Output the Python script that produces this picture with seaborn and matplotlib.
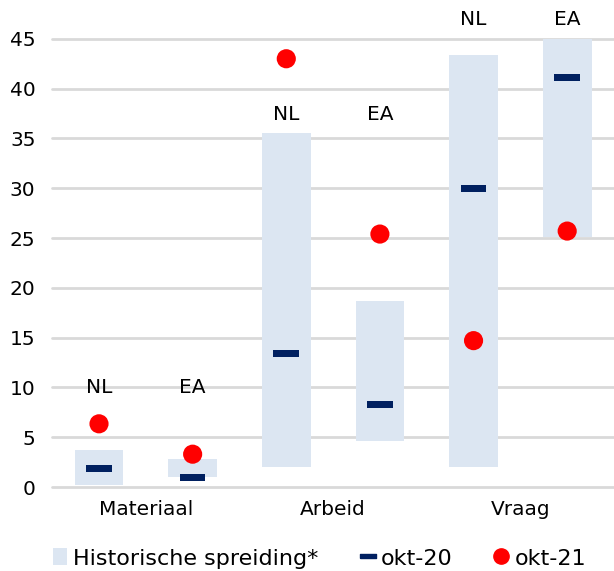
import numpy as np
import pandas as pd
import matplotlib
matplotlib.use("Agg")
import matplotlib.pyplot as plt
from matplotlib.lines import Line2D
from matplotlib.patches import Patch
import seaborn as sns

# %% Data ----
groups = ["Materiaal", "Arbeid", "Vraag"]
regions = ["NL", "EA", "NL", "EA", "NL", "EA"]
slots = ["Materiaal NL", "Materiaal EA", "Arbeid NL", "Arbeid EA", "Vraag NL", "Vraag EA"]
hist_low = [0.2, 1.0, 2.0, 4.6, 2.0, 25.1]
hist_high = [3.75, 2.8, 35.5, 18.7, 43.4, 45.0]
okt20 = [1.85, 1.0, 13.4, 8.3, 29.95, 41.1]
okt21 = [6.35, 3.3, 43.0, 25.4, 14.7, 25.7]
label_y = [10.0, 10.0, 37.4, 37.4, 46.9, 46.9]

df = pd.DataFrame({
    "slot": slots,
    "region": regions,
    "low": hist_low,
    "span": np.array(hist_high) - np.array(hist_low),
    "okt20": okt20,
    "okt21": okt21,
})

# %% Style ----
bar_color = "#dce6f2"
dash_color = "#002060"
dot_color = "#ff0000"
grid_color = "#d9d9d9"
fs = 14.5

sns.set_style("white")
plt.rcParams["font.family"] = ["DejaVu Sans"]
plt.rcParams["text.color"] = "black"
plt.rcParams["xtick.color"] = "black"
plt.rcParams["ytick.color"] = "black"

fig = plt.figure(figsize=(6.14, 5.71), dpi=100)
ax = fig.add_axes([0.085, 0.147, 0.915, 0.785])

# dash marker: wide flat rectangle
dash = [(-1, -0.28), (1, -0.28), (1, 0.28), (-1, 0.28), (-1, -0.28)]

# %% Plot ----
sns.barplot(data=df, x="slot", y="span", bottom=df["low"], color=bar_color,
            width=0.52, saturation=1, ax=ax, zorder=2, edgecolor="none")
sns.scatterplot(data=df, x="slot", y="okt20", marker=dash, s=340, color=dash_color,
                edgecolor="none", linewidth=0, ax=ax, zorder=3)
sns.scatterplot(data=df, x="slot", y="okt21", marker="o", s=190, color=dot_color,
                edgecolor="none", linewidth=0, ax=ax, zorder=4)

for i, (reg, yy) in enumerate(zip(regions, label_y)):
    ax.text(i, yy, reg, ha="center", va="center", fontsize=fs, clip_on=False)

# %% Axes ----
ax.set_ylim(0, 45)
ax.set_xlim(-0.5, 5.5)
ax.set_yticks(range(0, 50, 5))
ax.set_xticks([0.5, 2.5, 4.5])
ax.set_xticklabels(groups)
ax.set_xlabel("")
ax.set_ylabel("")
ax.tick_params(axis="both", length=0, labelsize=fs)
ax.tick_params(axis="x", pad=9)
ax.tick_params(axis="y", pad=12)
ax.grid(axis="y", color=grid_color, linewidth=2, zorder=0)
for gl in ax.get_ygridlines():
    gl.set_clip_on(False)
ax.set_axisbelow(True)
sns.despine(ax=ax, left=True, bottom=True)

handles = [
    Patch(facecolor=bar_color, edgecolor="none", label="Historische spreiding*"),
    Line2D([], [], marker=dash, markersize=11, color=dash_color, linestyle="none", label="okt-20"),
    Line2D([], [], marker="o", markersize=11, color=dot_color, linestyle="none", label="okt-21"),
]
fig.legend(handles=handles, loc="center", bbox_to_anchor=(0.52, 0.022), ncol=3,
           frameon=False, fontsize=16, handlelength=0.65, handleheight=0.8,
           handletextpad=0.25, columnspacing=1.9)

fig.savefig("out.png", dpi=100)
